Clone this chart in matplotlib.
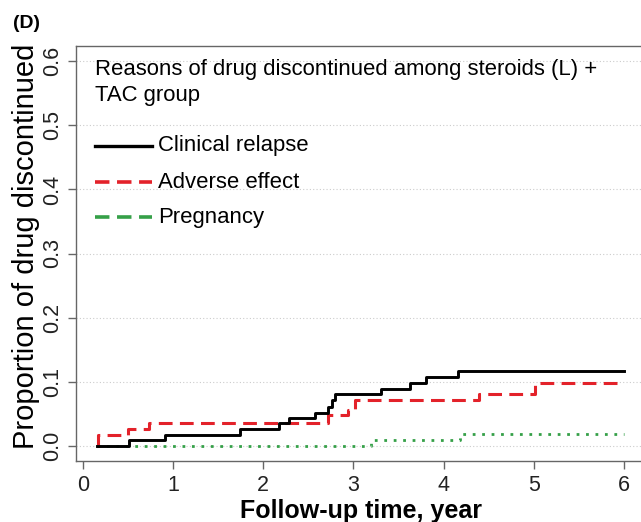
import matplotlib
matplotlib.use("Agg")
import matplotlib.pyplot as plt

plt.rcParams['font.family'] = ['Liberation Sans', 'DejaVu Sans']

# Data (cumulative proportion of drug discontinued, step functions)
relapse_t = [0.156, 0.51, 0.91, 1.74, 2.17, 2.29, 2.57, 2.72, 2.76, 2.79, 3.31, 3.625, 3.81, 4.16, 6.0]
relapse_p = [0.0, 0.0085, 0.017, 0.026, 0.035, 0.043, 0.051, 0.060, 0.072, 0.0806, 0.089, 0.098, 0.107, 0.117, 0.117]

adverse_t = [0.156, 0.17, 0.50, 0.73, 2.72, 2.94, 3.02, 4.39, 5.01, 6.0]
adverse_p = [0.0, 0.017, 0.026, 0.035, 0.048, 0.056, 0.072, 0.080, 0.098, 0.098]

preg_t = [0.156, 3.20, 4.18, 6.0]
preg_p = [0.0, 0.0085, 0.0178, 0.0178]

x_ticks = [0, 1, 2, 3, 4, 5, 6]
y_ticks = [0.0, 0.1, 0.2, 0.3, 0.4, 0.5, 0.6]
y_tick_labels = ["0.0", "0.1", "0.2", "0.3", "0.4", "0.5", "0.6"]

legend_title = ["Reasons of drug discontinued among steroids (L) +", "TAC group"]
legend_labels = ["Clinical relapse", "Adverse effect", "Pregnancy"]

RED = '#e3222a'
GREEN = '#35a048'
AX_COL = '#666666'

W, H = 641, 522
fig = plt.figure(figsize=(W / 100, H / 100), dpi=100)
ax = fig.add_axes([76 / W, 1 - 461 / H, (645 - 76) / W, (461 - 46) / H])

# grid
for yv in y_ticks:
    ax.axhline(yv, color='#cccccc', lw=0.8, ls=(0, (1, 2)), zorder=0)

ax.step(preg_t, preg_p, where='post', color=GREEN, lw=2.0, ls=(0, (1, 2.4)), zorder=2)
ax.step(adverse_t, adverse_p, where='post', color=RED, lw=2.2, ls=(0, (4.5, 2.4)), zorder=3)
ax.step(relapse_t, relapse_p, where='post', color='black', lw=2.1, zorder=4)

ax.set_xlim(-0.078, 6.234)
ax.set_ylim(-0.024, 0.624)

ax.set_xticks(x_ticks)
ax.set_xticklabels([str(v) for v in x_ticks])
ax.set_yticks(y_ticks)
ax.set_yticklabels(y_tick_labels, rotation=90, va='center')
ax.tick_params(axis='both', direction='out', length=6, width=1, color=AX_COL,
               labelsize=15.5, labelcolor='#222222')
ax.tick_params(axis='x', pad=4)
ax.tick_params(axis='y', pad=3)

for s in ['left', 'top', 'bottom']:
    ax.spines[s].set_color(AX_COL)
    ax.spines[s].set_linewidth(1.0)
ax.spines['right'].set_visible(False)

ax.set_xlabel("Follow-up time, year", fontsize=18, fontweight='bold', labelpad=2)
ax.set_ylabel("Proportion of drug discontinued", fontsize=21, labelpad=2)
ax.yaxis.label.set_y(0.518)

# legend drawn in axes coordinates
tr = ax.transAxes
x0 = (95 - 76) / 569
x1 = (152 - 76) / 569
xt = (158 - 76) / 569
def ay(py):
    return 1 - (py - 46) / 415

FS = 15.9
ax.text(x0, ay(70), legend_title[0], transform=tr, fontsize=FS, va='center', ha='left')
ax.text(x0, ay(95), legend_title[1], transform=tr, fontsize=FS, va='center', ha='left')
styles = [dict(color='black', lw=2.4, ls='-'),
          dict(color=RED, lw=2.6, ls=(0, (4.0, 2.1))),
          dict(color=GREEN, lw=2.6, ls=(0, (4.0, 2.1)))]
for lab, py, st in zip(legend_labels, [146, 182, 217], styles):
    ax.plot([x0, x1], [ay(py), ay(py)], transform=tr, clip_on=False, **st)
    ax.text(xt, ay(py), lab, transform=tr, fontsize=FS, va='center', ha='left')

fig.text(13 / W, 1 - 23 / H, "(D)", fontsize=14, fontweight='bold', va='center', ha='left')

fig.savefig("out.png", dpi=100)
